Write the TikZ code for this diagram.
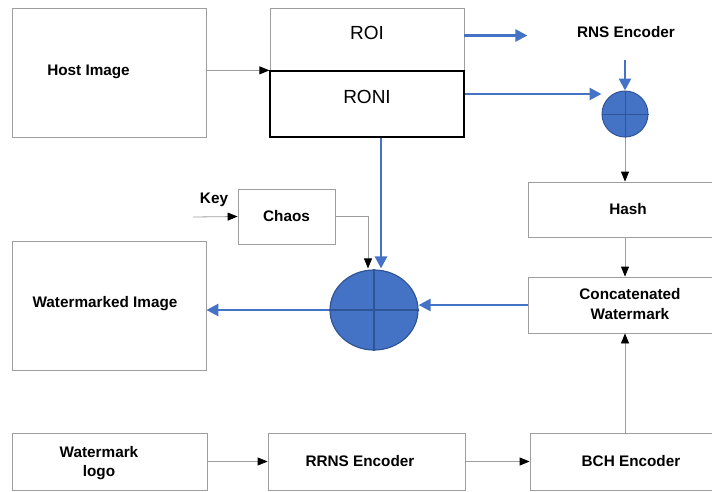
\documentclass[tikz,border=0pt]{standalone}
\usepackage{fontspec}
\setmainfont{Liberation Sans}
\usetikzlibrary{arrows.meta,shapes.geometric}
\definecolor{flowblue}{HTML}{4472C4}
\definecolor{edgeblue}{HTML}{2F5597}
\definecolor{boxgray}{HTML}{9E9E9E}
\tikzset{
  box/.style={draw=boxgray, line width=0.8pt, inner sep=0pt},
  lab/.style={font=\fontsize{15.3}{17.5}\selectfont\bfseries, align=center, inner sep=0pt},
  big/.style={font=\fontsize{19}{22}\selectfont, inner sep=0pt},
  flow/.style={draw=flowblue, line width=2.6pt, -{Triangle[length=12pt,width=12pt]}},
  thin/.style={draw=boxgray, line width=0.8pt, -{Triangle[length=10pt,width=8pt,black]}},
  xorop/.style={fill=flowblue, draw=edgeblue, line width=1pt, inner sep=0pt}
}
\begin{document}
\begin{tikzpicture}[x=1pt,y=-1pt]
\useasboundingbox (0,0) rectangle (712,491);
\clip (0,0) rectangle (712,491);

% left column
\node[box, minimum width=194pt, minimum height=129pt] (host) at (109,72.5) {};
\node[lab] (hostlab) at (88.5,72) {Host Image};
\node[box, minimum width=194pt, minimum height=129pt] (wm) at (109,305.5) {};
\node[lab] (wmlab) at (105,304) {Watermarked Image};

% region split
\node[box, minimum width=194pt, minimum height=63pt] (roi) at (367,39.5) {};
\node[big] (roilab) at (367,33) {ROI};
\node[draw=black, line width=1.3pt, inner sep=0pt, minimum width=194pt, minimum height=66pt] (roni) at (367,104) {};
\node[big] (ronilab) at (367,97) {RONI};

% key stream
\node[box, minimum width=97pt, minimum height=55pt] (chaos) at (286.5,216.5) {};
\node[lab] (chaoslab) at (286.5,216) {Chaos};
\node[lab] (key) at (214,200) {Key};
\coordinate (keyin) at (193,217);

% right column
\node[lab] (rns) at (626,32) {RNS Encoder};
\coordinate (rnsout) at (625,60);
\node[xorop, circle, minimum size=46pt] (xs) at (625,114) {};
\node[box, minimum width=206pt, minimum height=55pt] (hash) at (631,209.5) {};
\node[lab] (hashlab) at (628,209) {Hash};
\node[box, minimum width=206pt, minimum height=56pt] (cat) at (631,305) {};
\node[lab] (catlab) at (630,304) {Concatenated\\[2pt]Watermark};

% central combiner
\node[xorop, ellipse, minimum width=88pt, minimum height=80pt, line width=1.2pt] (xb) at (374,310) {};

% bottom row
\node[box, minimum width=195pt, minimum height=57pt] (logo) at (109.5,461.5) {};
\node[lab] (logolab) at (99,463) {Watermark\\[2pt]logo};
\node[box, minimum width=197pt, minimum height=57pt] (rrns) at (366.5,461.5) {};
\node[lab] (rrnslab) at (360,461) {RRNS Encoder};
\node[box, minimum width=206pt, minimum height=57pt] (bch) at (633,461.5) {};
\node[lab] (bchlab) at (631,461) {BCH Encoder};

% cross marks
\draw[edgeblue, line width=1pt] (xs.north) -- (xs.south) (xs.west) -- (xs.east);
\draw[edgeblue, line width=1.2pt] (xb.north) -- (xb.south) (xb.west) -- (xb.east);

% thin connectors
\draw[thin] (host.east |- roni.north) -- (roni.north west);
\draw[thin] (keyin) -- (chaos.west);
\draw[thin] (chaos.east) -| ([xshift=-6pt,yshift=1pt]xb.north);
\draw[thin] (xs.south) -- (xs.south |- hash.north);
\draw[thin] (xs.south |- hash.south) -- (xs.south |- cat.north);
\draw[thin] (xs.south |- bch.north) -- (xs.south |- cat.south);
\draw[thin] (logo.east) -- (rrns.west);
\draw[thin] (rrns.east) -- (bch.west);

% blue data paths
\coordinate (roiout) at ([yshift=4pt]roi.east);
\draw[flow] (roiout) -- ++(63,0);
\draw[flow] (rnsout) -- (xs.north);
\draw[flow] ([yshift=10pt]roni.east) -- ([yshift=10pt]roni.east -| xs.west);
\draw[flow] ([xshift=14pt]roni.south) -- ([xshift=14pt,yshift=1pt]roni.south |- xb.north);
\draw[flow] (cat.west) -- (cat.west -| xb.east);
\draw[flow] (xb.west) -- (wm.east |- xb.west);
\end{tikzpicture}
\end{document}
